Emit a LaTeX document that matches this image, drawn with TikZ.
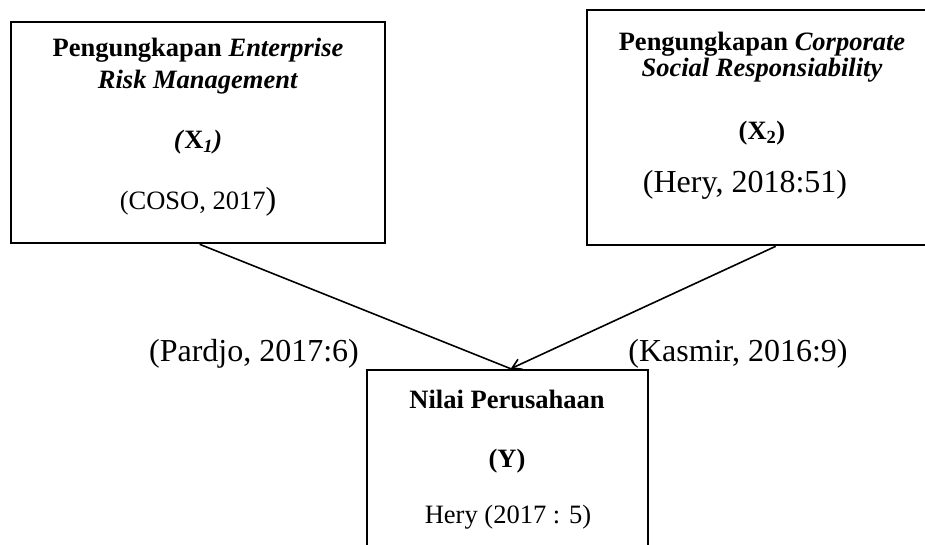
\documentclass[tikz,border=0pt]{standalone}
\usepackage{fontspec}
\setmainfont{Liberation Serif}
\usetikzlibrary{arrows.meta}
\tikzset{
  box/.style={draw=black, line width=2.6pt, rectangle, inner sep=0pt},
  txt/.style={inner sep=0pt, anchor=base, font=\fontsize{26.5}{30}\selectfont},
  bigtxt/.style={inner sep=0pt, anchor=base, font=\fontsize{32}{36}\selectfont},
  conn/.style={line width=1.6pt, draw=black},
  tip/.style={-{Straight Barb[length=9pt,width=11pt,line width=1.6pt]}}
}
\begin{document}
\begin{tikzpicture}[x=1pt,y=-1pt]
\useasboundingbox (0,0) rectangle (925,545);
% boxes
\node[box, minimum width=374pt, minimum height=221pt] (b1) at (198,132.5) {};
\node[box, minimum width=360pt, minimum height=235pt] (b2) at (767,127.5) {};
\node[box, minimum width=281pt, minimum height=200pt] (by) at (507.5,470) {};
% box 1 text
\node[txt] (t11) at (198,57) {\textbf{Pengungkapan \textit{Enterprise}}};
\node[txt] (t12) at (198,89) {\textbf{\textit{Risk Management}}};
\node[txt] (t13) at (198,149) {\textbf{\textit{(}X\textsubscript{\textit{1}}\textit{)}}};
\node[txt] (t14) at (198,210) {(COSO, 2017{\fontsize{32}{36}\selectfont )}};
% box 2 text
\node[txt] (t21) at (762,50.5) {\textbf{Pengungkapan \textit{Corporate}}};
\node[txt] (t22) at (762,77) {\textbf{\textit{Social Responsiability}}};
\node[txt] (t23) at (762,140) {\textbf{(X\textsubscript{2})}};
\node[bigtxt] (t24) at (745,193) {(Hery, 2018:51)};
% box Y text
\node[txt] (ty1) at (507,408) {\textbf{Nilai Perusahaan}};
\node[txt] (ty2) at (507,467) {\textbf{(Y)}};
\node[txt] (ty3) at (508,523) {Hery (2017 : 5)};
% labels
\node[bigtxt] (l1) at (254,361) {(Pardjo, 2017:6)};
\node[bigtxt] (l2) at (738,361) {(Kasmir, 2016:9)};
% connectors
\coordinate (s1) at ([xshift=190pt]b1.south west);
\coordinate (s2) at ([xshift=190pt]b2.south west);
\coordinate (e) at ([xshift=145pt]by.north west);
\draw[conn] (s1) -- (e);
\draw[conn, tip] (s2) -- (e);
\end{tikzpicture}
\end{document}
